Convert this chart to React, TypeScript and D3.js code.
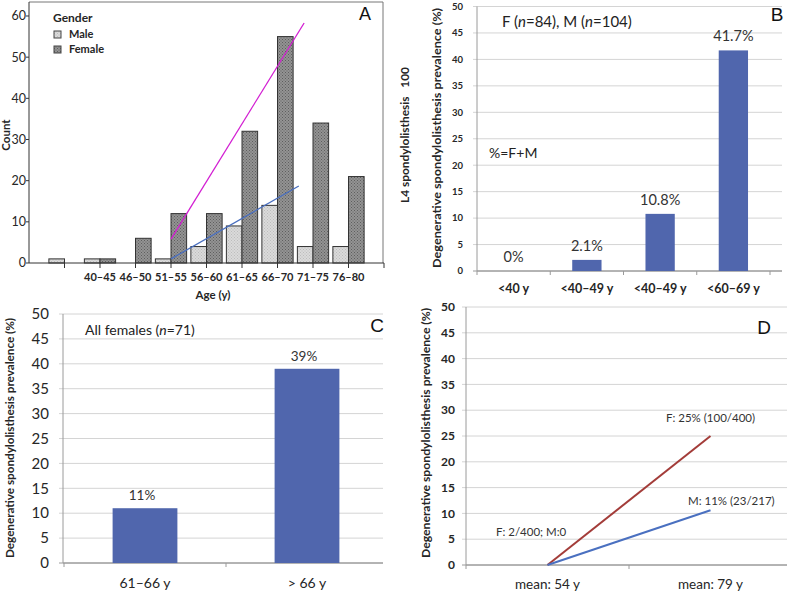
import React, { useEffect, useRef } from "react";
import * as d3 from "d3";

// A: counts per age group and gender
const ageGroups = ["", "40–45", "46–50", "51–55", "56–60", "61–65", "66–70", "71–75", "76–80"];
const maleCounts = [1, 1, 0, 1, 4, 9, 14, 4, 4];
const femaleCounts = [0, 1, 6, 12, 12, 32, 55, 34, 21];
const countTicks = [0, 10, 20, 30, 40, 50, 60];
// fitted trend lines: [group position, count]
const femaleTrend: [number, number][] = [[4, 5.8], [7.75, 58.3]];
const maleTrend: [number, number][] = [[4, 1], [7.6, 18.7]];

// B: prevalence by age group (F+M)
const prevGroups = ["<40 y", "<40–49 y", "<40–49 y", "<60–69 y"];
const prevValues = [0, 2.1, 10.8, 41.7];
const prevLabels = ["0%", "2.1%", "10.8%", "41.7%"];

// C: all females
const femaleGroups = ["61–66 y", "> 66 y"];
const femaleValues = [11, 39];
const femaleLabels = ["11%", "39%"];

// D: F vs M by mean age
const meanAges = ["mean: 54 y", "mean: 79 y"];
const femaleLine = [0, 25];
const maleLine = [0, 10.6];

const pctTicks = [0, 5, 10, 15, 20, 25, 30, 35, 40, 45, 50];

const FONT = "Lato, 'DejaVu Sans', sans-serif";
const BLUE = "#5066ad";
const GRID = "#d4d4d4";
const TEXT = "#262626";

export default function App() {
    const ref = useRef<SVGSVGElement>(null);

    useEffect(() => {
        const svg = d3.select(ref.current);
        svg.selectAll("*").remove();
        svg.style("font-family", FONT);

        // textures for the histogram bars
        const defs = svg.append("defs");
        const texture = (id: string, bg: string, dot: string) => {
            const p = defs
                .append("pattern")
                .attr("id", id)
                .attr("width", 3)
                .attr("height", 3)
                .attr("patternUnits", "userSpaceOnUse");
            p.append("rect").attr("width", 3).attr("height", 3).attr("fill", bg);
            p.append("rect").attr("width", 1).attr("height", 1).attr("fill", dot);
            p.append("rect").attr("x", 1.5).attr("y", 1.5).attr("width", 1).attr("height", 1).attr("fill", dot);
        };
        texture("maleTex", "#dadada", "#bdbdbd");
        texture("femaleTex", "#939393", "#5e5e5e");

        drawA(svg);
        drawB(svg);
        drawC(svg);
        drawD(svg);
    }, []);

    return (
        <svg
            ref={ref}
            width={788}
            height={592}
            style={{ position: "absolute", left: 0, top: 0, background: "#fff" }}
        />
    );
}

// ---------- Panel A ----------
function drawA(svg: any) {
    const g = svg.append("g");
    const x = d3.scaleLinear().domain([0, 10]).range([29, 384]);
    const y = d3.scaleLinear().domain([0, 63.4]).range([263, 2]);
    const barW = (x(1) - x(0)) * 0.44;

    // frame
    g.append("path")
        .attr("d", `M${x(0)},${y(63.4)}H${x(10) - 1}V${y(0)}`)
        .attr("fill", "none")
        .attr("stroke", "#777");

    // bars
    maleCounts.forEach((v, i) => {
        if (!v) return;
        g.append("rect")
            .attr("x", x(i + 1) - barW)
            .attr("y", y(v))
            .attr("width", barW)
            .attr("height", y(0) - y(v))
            .attr("fill", "url(#maleTex)")
            .attr("stroke", "#333");
    });
    femaleCounts.forEach((v, i) => {
        if (!v) return;
        g.append("rect")
            .attr("x", x(i + 1))
            .attr("y", y(v))
            .attr("width", barW)
            .attr("height", y(0) - y(v))
            .attr("fill", "url(#femaleTex)")
            .attr("stroke", "#333");
    });

    // trend lines
    const line = d3
        .line<[number, number]>()
        .x(d => x(d[0]))
        .y(d => y(d[1]));
    g.append("path").attr("d", line(femaleTrend)).attr("stroke", "#d21ed2").attr("stroke-width", 1.3).attr("fill", "none");
    g.append("path").attr("d", line(maleTrend)).attr("stroke", "#4a6fbf").attr("stroke-width", 1.3).attr("fill", "none");

    // axes
    g.append("line").attr("x1", x(0)).attr("x2", x(0)).attr("y1", y(63.4)).attr("y2", y(0)).attr("stroke", "#333");
    g.append("line").attr("x1", x(0)).attr("x2", x(10)).attr("y1", y(0)).attr("y2", y(0)).attr("stroke", "#333");
    countTicks.forEach(t => {
        g.append("line").attr("x1", x(0) - 3).attr("x2", x(0)).attr("y1", y(t)).attr("y2", y(t)).attr("stroke", "#333");
        g.append("text")
            .attr("x", x(0) - 3)
            .attr("y", y(t))
            .attr("dy", "0.35em")
            .attr("text-anchor", "end")
            .attr("font-size", 12.5)
            .attr("fill", TEXT)
            .text(t);
    });
    d3.range(1, 11).forEach(k => {
        g.append("line").attr("x1", x(k)).attr("x2", x(k)).attr("y1", y(0)).attr("y2", y(0) + 5).attr("stroke", "#333");
    });
    ageGroups.forEach((lab, i) => {
        g.append("text")
            .attr("x", x(i + 1))
            .attr("y", 281)
            .attr("text-anchor", "middle")
            .attr("font-size", 11)
            .attr("font-weight", "bold")
            .attr("fill", TEXT)
            .text(lab);
    });

    g.append("text")
        .attr("x", 213)
        .attr("y", 299)
        .attr("text-anchor", "middle")
        .attr("font-size", 11.5)
        .attr("font-weight", "bold")
        .attr("fill", TEXT)
        .text("Age (y)");
    g.append("text")
        .attr("transform", "translate(10,135) rotate(-90)")
        .attr("text-anchor", "middle")
        .attr("font-size", 11.5)
        .attr("font-weight", "bold")
        .attr("fill", TEXT)
        .text("Count");

    // legend
    g.append("text").attr("x", 53).attr("y", 22).attr("font-size", 12).attr("font-weight", "bold").attr("fill", TEXT).text("Gender");
    [
        ["Male", "url(#maleTex)"],
        ["Female", "url(#femaleTex)"]
    ].forEach(([lab, fill], i) => {
        g.append("rect").attr("x", 54).attr("y", 31 + i * 15).attr("width", 7).attr("height", 7).attr("fill", fill).attr("stroke", "#444");
        g.append("text")
            .attr("x", 69)
            .attr("y", 38 + i * 15)
            .attr("font-size", 11)
            .attr("font-weight", "bold")
            .attr("fill", TEXT)
            .text(lab);
    });

    g.append("text")
        .attr("x", 365)
        .attr("y", 20)
        .attr("text-anchor", "middle")
        .attr("font-size", 18)
        .attr("font-family", "'Liberation Sans', Arial, sans-serif")
        .attr("fill", "#111")
        .text("A");
}

// shared bits for the percentage panels
function pctGrid(g: any, y: any, x0: number, x1: number, axisEnd: number, tickSize: number, tickStyle: any) {
    pctTicks.forEach(t => {
        g.append("line")
            .attr("x1", x0 - 4)
            .attr("x2", x1)
            .attr("y1", y(t))
            .attr("y2", y(t))
            .attr("stroke", t === 0 ? "#9a9a9a" : GRID);
        g.append("text")
            .attr("x", tickStyle.x)
            .attr("y", y(t))
            .attr("dy", "0.35em")
            .attr("text-anchor", "end")
            .attr("font-size", tickSize)
            .attr("font-weight", tickStyle.bold ? "bold" : "normal")
            .attr("fill", TEXT)
            .text(t);
    });
    g.append("line").attr("x1", x0).attr("x2", x0).attr("y1", y(50)).attr("y2", y(0)).attr("stroke", "#9a9a9a");
    g.append("line").attr("x1", x0).attr("x2", axisEnd).attr("y1", y(0)).attr("y2", y(0)).attr("stroke", "#9a9a9a");
}

function bandTicks(g: any, x: any, n: number, y0: number, limit: number) {
    d3.range(n + 1).forEach(k => {
        const px = x.range()[0] + k * x.step();
        if (px > limit) return;
        g.append("line").attr("x1", px).attr("x2", px).attr("y1", y0).attr("y2", y0 + 4).attr("stroke", "#9a9a9a");
    });
}

function yTitle(g: any, text: string, cx: number, cy: number, len: number) {
    g.append("text")
        .attr("transform", `translate(${cx},${cy}) rotate(-90)`)
        .attr("text-anchor", "middle")
        .attr("dy", "0.35em")
        .attr("font-size", 11)
        .attr("font-weight", "bold")
        .attr("fill", TEXT)
        .attr("textLength", len)
        .attr("lengthAdjust", "spacingAndGlyphs")
        .text(text);
}

function panelLetter(g: any, letter: string, cx: number, by: number) {
    g.append("text")
        .attr("x", cx)
        .attr("y", by)
        .attr("text-anchor", "middle")
        .attr("font-size", 19)
        .attr("font-family", "'Liberation Sans', Arial, sans-serif")
        .attr("fill", "#111")
        .text(letter);
}

// ---------- Panel B ----------
function drawB(svg: any) {
    const g = svg.append("g");
    const x = d3.scaleBand<number>().domain(d3.range(prevGroups.length)).range([477, 770]).paddingInner(0.6).paddingOuter(0.3);
    const y = d3.scaleLinear().domain([0, 50]).range([271, 6.5]);

    pctGrid(g, y, 477, 782, 782, 9.5, { x: 463, bold: true });
    bandTicks(g, x, prevGroups.length, y(0), 782);

    prevValues.forEach((v, i) => {
        g.append("rect")
            .attr("x", x(i))
            .attr("y", y(v))
            .attr("width", x.bandwidth())
            .attr("height", y(0) - y(v))
            .attr("fill", BLUE);
        g.append("text")
            .attr("x", x(i)! + x.bandwidth() / 2)
            .attr("y", y(v) - 9)
            .attr("text-anchor", "middle")
            .attr("font-size", 14.5)
            .attr("fill", "#333")
            .text(prevLabels[i]);
        g.append("text")
            .attr("x", x(i)! + x.bandwidth() / 2)
            .attr("y", 293)
            .attr("text-anchor", "middle")
            .attr("font-size", 12.5)
            .attr("font-weight", "bold")
            .attr("fill", TEXT)
            .text(prevGroups[i]);
    });

    const note = g.append("text").attr("x", 502).attr("y", 27).attr("font-size", 15).attr("fill", "#222");
    note.append("tspan").text("F (");
    note.append("tspan").attr("font-style", "italic").text("n");
    note.append("tspan").text("=84), M (");
    note.append("tspan").attr("font-style", "italic").text("n");
    note.append("tspan").text("=104)");
    g.append("text").attr("x", 489).attr("y", 158).attr("font-size", 14).attr("fill", "#222").text("%=F+M");

    yTitle(g, "Degenerative spondylolisthesis prevalence (%)", 437, 138, 260);
    g.append("text")
        .attr("transform", "translate(405,203) rotate(-90)")
        .attr("dy", "0.35em")
        .attr("font-size", 11)
        .attr("font-weight", "bold")
        .attr("fill", TEXT)
        .attr("textLength", 136)
        .attr("lengthAdjust", "spacingAndGlyphs")
        .attr("xml:space", "preserve")
        .text("L4 spondylolisthesis   100");

    panelLetter(g, "B", 777, 21);
}

// ---------- Panel C ----------
function drawC(svg: any) {
    const g = svg.append("g");
    const x = d3.scaleBand<number>().domain(d3.range(femaleGroups.length)).range([64, 388]).paddingInner(0.6).paddingOuter(0.3);
    const y = d3.scaleLinear().domain([0, 50]).range([563, 314]);

    pctGrid(g, y, 63, 383, 383, 15, { x: 49, bold: false });
    bandTicks(g, x, femaleGroups.length, y(0), 383);

    femaleValues.forEach((v, i) => {
        g.append("rect")
            .attr("x", x(i))
            .attr("y", y(v))
            .attr("width", x.bandwidth())
            .attr("height", y(0) - y(v))
            .attr("fill", BLUE);
        g.append("text")
            .attr("x", x(i)! + x.bandwidth() / 2 - 3)
            .attr("y", y(v) - 8)
            .attr("text-anchor", "middle")
            .attr("font-size", 13.5)
            .attr("fill", "#333")
            .text(femaleLabels[i]);
        g.append("text")
            .attr("x", x(i)! + x.bandwidth() / 2)
            .attr("y", 588)
            .attr("text-anchor", "middle")
            .attr("font-size", 14)
            .attr("fill", TEXT)
            .text(femaleGroups[i]);
    });

    const note = g.append("text").attr("x", 85).attr("y", 335).attr("font-size", 14).attr("fill", "#222");
    note.append("tspan").text("All females (");
    note.append("tspan").attr("font-style", "italic").text("n");
    note.append("tspan").text("=71)");

    yTitle(g, "Degenerative spondylolisthesis prevalence (%)", 10, 438, 240);
    panelLetter(g, "C", 377, 332);
}

// ---------- Panel D ----------
function drawD(svg: any) {
    const g = svg.append("g");
    const x = d3.scaleBand<number>().domain(d3.range(meanAges.length)).range([466, 792]);
    const y = d3.scaleLinear().domain([0, 50]).range([565, 307]);
    const cx = (i: number) => x(i)! + x.bandwidth() / 2;

    pctGrid(g, y, 466, 787, 787, 12, { x: 455, bold: true });
    bandTicks(g, x, meanAges.length, y(0), 787);

    const line = d3
        .line<number>()
        .x((d, i) => cx(i))
        .y(d => y(d));
    g.append("path").attr("d", line(femaleLine)).attr("stroke", "#a33c39").attr("stroke-width", 2).attr("fill", "none");
    g.append("path").attr("d", line(maleLine)).attr("stroke", "#4a70c0").attr("stroke-width", 2).attr("fill", "none");

    meanAges.forEach((lab, i) => {
        g.append("text")
            .attr("x", cx(i))
            .attr("y", 589)
            .attr("text-anchor", "middle")
            .attr("font-size", 13.5)
            .attr("fill", TEXT)
            .text(lab);
    });

    const lab = (t: string, px: number, py: number) =>
        g.append("text").attr("x", px).attr("y", py).attr("font-size", 11.5).attr("fill", "#333").text(t);
    lab("F: 25% (100/400)", 666, 422);
    lab("M: 11% (23/217)", 688, 505);
    lab("F: 2/400; M:0", 496, 536);

    yTitle(g, "Degenerative spondylolisthesis prevalence (%)", 426, 433, 250);
    panelLetter(g, "D", 764, 334);
}
